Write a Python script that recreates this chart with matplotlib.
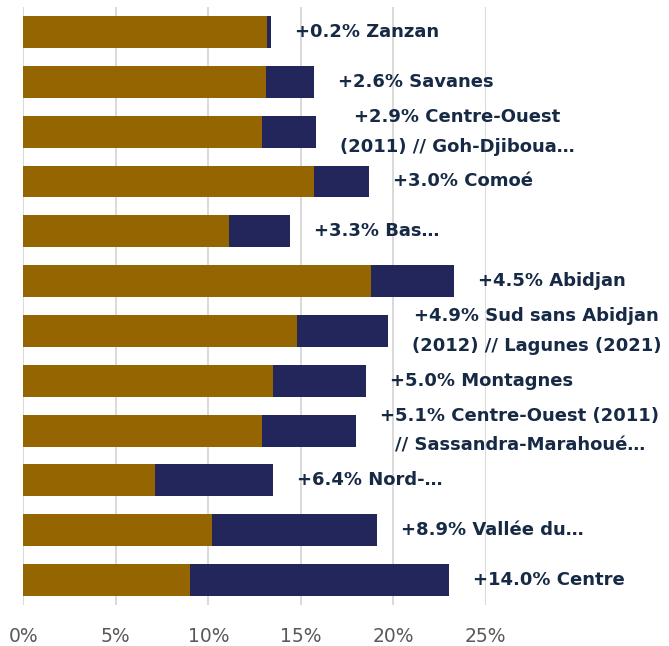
import matplotlib
matplotlib.use("Agg")
import matplotlib.pyplot as plt
from matplotlib.ticker import PercentFormatter

# ---------- Data ----------
regions = [
    "Zanzan",
    "Savanes",
    "Centre-Ouest\n(2011) // Goh-Djiboua…",
    "Comoé",
    "Bas…",
    "Abidjan",
    "Sud sans Abidjan\n(2012) // Lagunes (2021)",
    "Montagnes",
    "Centre-Ouest (2011)\n// Sassandra-Marahoué…",
    "Nord-…",
    "Vallée du…",
    "Centre",
]
base_pct = [13.2, 13.1, 12.9, 15.7, 11.1, 18.8, 14.8, 13.5, 12.9, 7.1, 10.2, 9.0]
increase_pct = [0.2, 2.6, 2.9, 3.0, 3.3, 4.5, 4.9, 5.0, 5.1, 6.4, 8.9, 14.0]
x_ticks = [0, 5, 10, 15, 20, 25]

# ---------- Style ----------
BROWN = "#946500"
NAVY = "#22265a"
LABEL_COLOR = "#172a45"
TICK_COLOR = "#595959"
GRID_COLOR = "#d9d9d9"
FONT = ["DejaVu Sans"]

fig = plt.figure(figsize=(6.69, 6.46), dpi=100)
ax = fig.add_axes([0.035, 0.0635, 0.691, 0.9255])

y = list(range(len(regions)))
ax.barh(y, base_pct, height=0.64, color=BROWN, zorder=3)
ax.barh(y, increase_pct, left=base_pct, height=0.64, color=NAVY, zorder=3)

for yi, b, inc, name in zip(y, base_pct, increase_pct, regions):
    ax.text(b + inc + 1.3, yi, f"+{inc:.1f}% {name}", ha="left", va="center",
            multialignment="center", fontsize=13, fontweight="bold",
            color=LABEL_COLOR, family=FONT, clip_on=False, linespacing=1.85)

ax.set_xlim(0, 25)
ax.set_ylim(len(regions) - 0.5, -0.5)
ax.set_xticks(x_ticks)
ax.xaxis.set_major_formatter(PercentFormatter(decimals=0))
ax.set_yticks([])
ax.tick_params(axis="x", length=0, pad=16, labelsize=13.5, labelcolor=TICK_COLOR)
for lbl in ax.get_xticklabels():
    lbl.set_family(FONT)
ax.grid(axis="x", color=GRID_COLOR, linewidth=1.4, zorder=0)
for s in ax.spines.values():
    s.set_visible(False)

fig.savefig("out.png", dpi=100)
